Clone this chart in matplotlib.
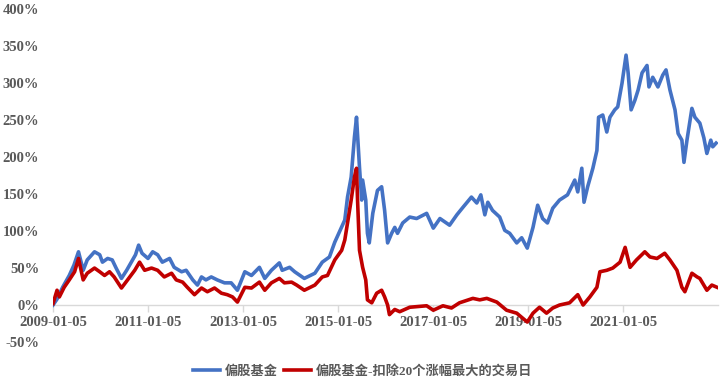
import numpy as np
import pandas as pd
import matplotlib
matplotlib.use("Agg")
import matplotlib.pyplot as plt
import matplotlib.dates as mdates
from matplotlib.ticker import FuncFormatter

# 偏股基金 cumulative return (%)
fund_dates = [
    "2009-01-05", "2009-02-05", "2009-03-20", "2009-05-10", "2009-06-15", "2009-07-20",
    "2009-08-25", "2009-09-25", "2009-11-20", "2009-12-30", "2010-01-20", "2010-03-01",
    "2010-04-05", "2010-05-05", "2010-06-15", "2010-07-25", "2010-08-30", "2010-10-01",
    "2010-10-25", "2010-11-20", "2011-01-05", "2011-02-10", "2011-03-20", "2011-04-25",
    "2011-06-20", "2011-07-25", "2011-09-20", "2011-10-25", "2011-12-15", "2012-01-20",
    "2012-02-20", "2012-03-25", "2012-05-05", "2012-06-20", "2012-08-15", "2012-10-05",
    "2012-11-22", "2013-01-18", "2013-03-10", "2013-05-10", "2013-06-20", "2013-08-10",
    "2013-10-10", "2013-11-01", "2013-12-28", "2014-02-05", "2014-04-20", "2014-07-10",
    "2014-09-05", "2014-10-30", "2014-12-10", "2015-01-20", "2015-02-25", "2015-03-18",
    "2015-04-15", "2015-05-10", "2015-05-26", "2015-06-18", "2015-07-05", "2015-07-12",
    "2015-08-05", "2015-08-18", "2015-09-01", "2015-09-28", "2015-11-03", "2015-12-05",
    "2015-12-28", "2016-01-20", "2016-02-20", "2016-03-15", "2016-04-05", "2016-05-15",
    "2016-07-08", "2016-08-30", "2016-11-15", "2017-01-05", "2017-02-25", "2017-05-10",
    "2017-07-05", "2017-08-20", "2017-10-25", "2017-12-05", "2018-01-05", "2018-02-05",
    "2018-02-28", "2018-04-05", "2018-05-30", "2018-07-08", "2018-08-15", "2018-10-08",
    "2018-11-15", "2018-12-28", "2019-02-10", "2019-03-18", "2019-04-25", "2019-06-01",
    "2019-07-12", "2019-09-02", "2019-11-02", "2019-12-28", "2020-01-20", "2020-02-20",
    "2020-03-08", "2020-04-05", "2020-05-15", "2020-06-15", "2020-06-28", "2020-07-30",
    "2020-08-30", "2020-09-23", "2020-10-30", "2020-11-22", "2020-12-25", "2021-01-25",
    "2021-02-10", "2021-03-05", "2021-04-03", "2021-04-28", "2021-05-28", "2021-07-05",
    "2021-07-20", "2021-08-18", "2021-09-27", "2021-11-03", "2021-11-28", "2021-12-28",
    "2022-02-05", "2022-03-01", "2022-03-30", "2022-04-15", "2022-05-08", "2022-06-15",
    "2022-07-08", "2022-08-15", "2022-09-15", "2022-10-08", "2022-11-07", "2022-11-22",
    "2022-12-18",
]
fund_values = [
    0, 8, 24, 40, 54, 72,
    47, 61, 72, 68, 58, 63,
    61, 50, 36, 47, 58, 68,
    81, 70, 63, 72, 68, 58,
    63, 51, 45, 47, 34, 27,
    38, 34, 38, 34, 30, 30,
    20, 45, 40, 51, 36, 47,
    57, 47, 51, 45, 36, 43,
    58, 65, 85, 101, 115, 146,
    173, 227, 254, 186, 142, 169,
    142, 97, 84, 124, 155, 160,
    128, 84, 97, 105, 97, 111,
    119, 117, 124, 104, 117, 108,
    122, 132, 146, 138, 149, 122,
    139, 128, 119, 101, 97, 84,
    91, 77, 105, 135, 117, 111,
    131, 142, 149, 169, 153, 185,
    139, 160, 185, 209, 254, 257,
    234, 254, 264, 268, 300, 338,
    314, 264, 277, 291, 314, 324,
    295, 308, 295, 311, 318, 291,
    264, 232, 223, 193, 223, 266,
    254, 246, 226, 205, 223, 214,
    219,
]

# 偏股基金-扣除20个涨幅最大的交易日 cumulative return (%)
ex_dates = [
    "2009-01-05", "2009-02-05", "2009-02-23", "2009-04-01", "2009-05-10", "2009-06-20",
    "2009-07-20", "2009-08-25", "2009-09-25", "2009-11-20", "2009-12-30", "2010-02-05",
    "2010-03-15", "2010-04-20", "2010-06-15", "2010-08-01", "2010-09-25", "2010-11-01",
    "2010-12-10", "2011-02-01", "2011-03-20", "2011-05-10", "2011-07-05", "2011-08-10",
    "2011-09-28", "2011-11-03", "2011-12-28", "2012-02-20", "2012-04-05", "2012-05-30",
    "2012-07-22", "2012-09-05", "2012-10-15", "2012-11-22", "2013-01-18", "2013-03-10",
    "2013-05-10", "2013-06-20", "2013-08-10", "2013-10-10", "2013-11-18", "2014-01-12",
    "2014-02-20", "2014-04-20", "2014-07-10", "2014-09-05", "2014-10-15", "2014-12-10",
    "2015-02-01", "2015-02-25", "2015-03-18", "2015-04-15", "2015-05-10", "2015-05-26",
    "2015-06-03", "2015-06-18", "2015-07-12", "2015-08-05", "2015-08-18", "2015-09-20",
    "2015-10-28", "2015-12-05", "2015-12-28", "2016-01-20", "2016-02-03", "2016-03-15",
    "2016-04-22", "2016-07-08", "2016-11-15", "2017-01-05", "2017-03-20", "2017-05-25",
    "2017-07-25", "2017-11-05", "2017-12-28", "2018-02-20", "2018-05-08", "2018-07-22",
    "2018-10-08", "2018-12-28", "2019-02-10", "2019-04-01", "2019-05-25", "2019-07-12",
    "2019-09-02", "2019-11-18", "2020-01-20", "2020-03-01", "2020-04-22", "2020-06-15",
    "2020-07-08", "2020-08-30", "2020-10-15", "2020-12-10", "2021-01-18", "2021-02-25",
    "2021-04-15", "2021-06-18", "2021-07-28", "2021-09-20", "2021-11-18", "2021-12-28",
    "2022-02-20", "2022-03-30", "2022-04-22", "2022-06-15", "2022-07-25", "2022-08-15",
    "2022-10-08", "2022-11-15", "2022-12-25",
]
ex_values = [
    2, 20, 11, 24, 34, 45,
    63, 34, 43, 50, 45, 40,
    45, 38, 23, 34, 47, 58,
    47, 50, 47, 38, 43, 34,
    31, 24, 14, 23, 18, 23,
    16, 14, 11, 4, 24, 23,
    31, 20, 30, 36, 30, 31,
    27, 20, 27, 38, 40, 61,
    74, 88, 111, 142, 173, 185,
    142, 74, 51, 34, 7, 3,
    16, 20, 11, 0, -13, -6,
    -9, -3, -1, -7, -1, -4,
    3, 9, 7, 9, 4, -7,
    -11, -23, -11, -3, -11, -4,
    0, 3, 14, 0, 11, 24,
    45, 47, 50, 58, 78, 51,
    61, 72, 65, 63, 70, 61,
    47, 24, 18, 43, 38, 36,
    20, 27, 24,
]

tick_dates = ["2009-01-05", "2011-01-05", "2013-01-05", "2015-01-05",
              "2017-01-05", "2019-01-05", "2021-01-05"]

label_font = ["Liberation Serif", "Noto Sans CJK SC"]
text_color = "#595959"
plt.rcParams["font.family"] = label_font

fig = plt.figure(figsize=(7.23, 3.82), dpi=100)
ax = fig.add_axes([0.0733, 0.1047, 0.9197, 0.871])

ax.plot(pd.to_datetime(fund_dates), fund_values, color="#4472C4", lw=2.6,
        label="偏股基金", solid_joinstyle="round", zorder=3)
ax.plot(pd.to_datetime(ex_dates), ex_values, color="#C00000", lw=2.6,
        label="偏股基金-扣除20个涨幅最大的交易日", solid_joinstyle="round", zorder=3)

ax.set_ylim(-50, 400)
ax.set_yticks(np.arange(-50, 401, 50))
ax.yaxis.set_major_formatter(FuncFormatter(lambda v, p: f"{int(v)}%"))
ax.set_xlim(pd.Timestamp("2009-01-05"), pd.Timestamp("2023-01-01"))
ax.set_xticks(pd.to_datetime(tick_dates))
ax.xaxis.set_major_formatter(mdates.DateFormatter("%Y-%m-%d"))

for s in ["top", "right", "left"]:
    ax.spines[s].set_visible(False)
ax.spines["bottom"].set_position(("data", 0))
ax.spines["bottom"].set_color("#D9D9D9")
ax.spines["bottom"].set_linewidth(1.0)
ax.spines["bottom"].set_zorder(2)

ax.tick_params(axis="y", length=0, pad=10, labelsize=10.5, labelcolor=text_color)
ax.tick_params(axis="x", length=5, width=1, color="#D9D9D9", pad=3,
               labelsize=10.5, labelcolor=text_color)
for lbl in ax.get_xticklabels() + ax.get_yticklabels():
    lbl.set_fontweight("bold")

leg = fig.legend(loc="center", bbox_to_anchor=(0.502, 0.028), ncol=2, frameon=False,
                 handlelength=2.0, columnspacing=0.5, handletextpad=0.4,
                 prop={"family": label_font, "size": 9.5, "weight": "bold"})
for t in leg.get_texts():
    t.set_color(text_color)

fig.savefig("out.png", dpi=100)
